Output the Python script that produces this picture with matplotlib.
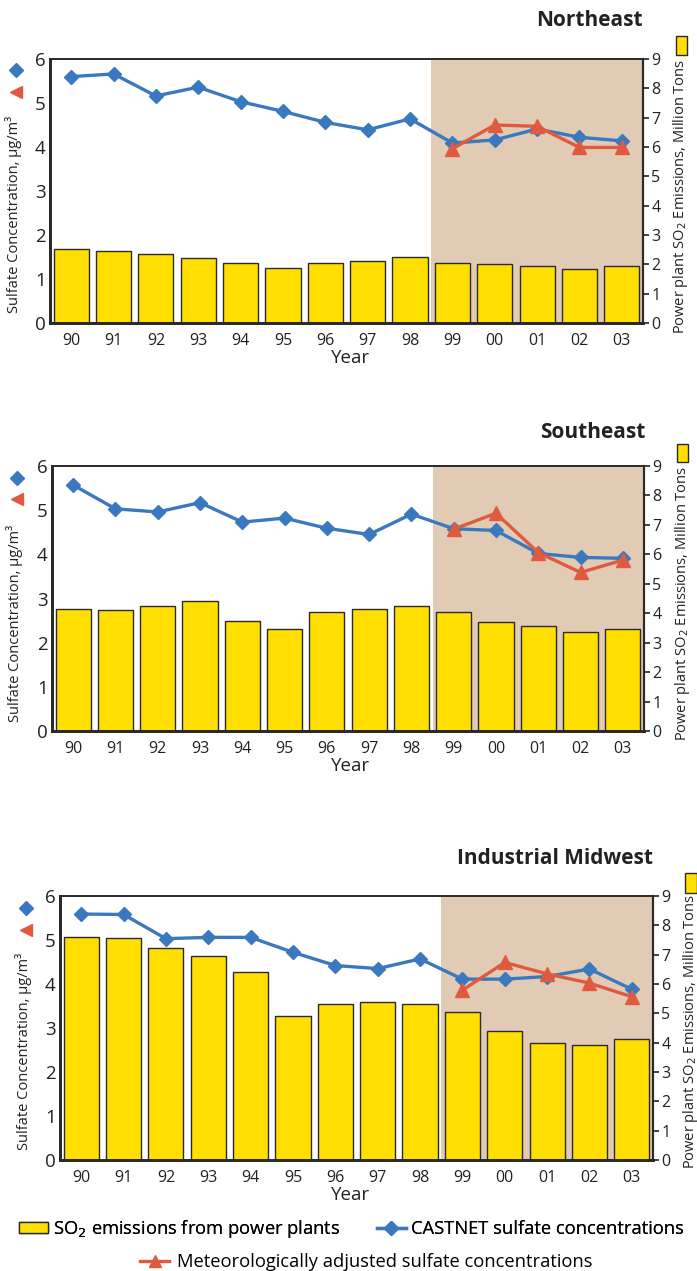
import matplotlib
matplotlib.use("Agg")
import matplotlib.pyplot as plt
from matplotlib.lines import Line2D
from matplotlib.patches import Rectangle

plt.rcParams['font.family'] = ['Open Sans', 'DejaVu Sans']

years = ["90", "91", "92", "93", "94", "95", "96", "97", "98", "99", "00", "01", "02", "03"]
regions = ["Northeast", "Southeast", "Industrial Midwest"]

# SO2 emissions, million tons (right axis)
ne_so2 = [2.52, 2.46, 2.34, 2.22, 2.06, 1.88, 2.06, 2.12, 2.25, 2.06, 2.00, 1.95, 1.85, 1.95]
se_so2 = [4.16, 4.10, 4.25, 4.42, 3.73, 3.45, 4.05, 4.14, 4.25, 4.05, 3.71, 3.56, 3.37, 3.47]
mw_so2 = [7.61, 7.58, 7.24, 6.97, 6.40, 4.90, 5.33, 5.40, 5.33, 5.06, 4.40, 4.00, 3.93, 4.13]

# CASTNET sulfate concentrations, ug/m3 (left axis)
ne_cast = [5.60, 5.66, 5.16, 5.36, 5.03, 4.81, 4.56, 4.39, 4.64, 4.09, 4.16, 4.41, 4.22, 4.14]
se_cast = [5.57, 5.03, 4.96, 5.17, 4.73, 4.82, 4.59, 4.45, 4.91, 4.58, 4.54, 4.02, 3.93, 3.91]
mw_cast = [5.59, 5.58, 5.03, 5.06, 5.06, 4.72, 4.42, 4.35, 4.57, 4.11, 4.11, 4.17, 4.34, 3.88]

# Meteorologically adjusted sulfate concentrations (1999-2003)
met_years = ["99", "00", "01", "02", "03"]
ne_met = [3.96, 4.50, 4.47, 3.99, 3.99]
se_met = [4.57, 4.93, 4.04, 3.59, 3.87]
mw_met = [3.86, 4.49, 4.23, 4.02, 3.71]

W, H = 697, 1271
fig = plt.figure(figsize=(W / 100, H / 100), dpi=100)

BLUE = "#3a78c0"
RED = "#e05a3f"
YELLOW = "#ffde00"
TAN = "#e2cbb4"
DARK = "#2a2a2a"
TXT = "#222222"

# layout in pixels: left, right, top, bottom of axes
boxes = [(50, 643, 59, 323), (52, 644, 466, 731), (60, 653, 896, 1160)]
titles_pos = [(643, 20), (645, 432), (653, 858)]
left_lbl = [(14, 214), (15, 623), (24, 1051)]
right_lbl = [(681, 197), (682, 604), (690, 1032)]
diamond_pos = [(16, 70), (17, 478), (26, 908)]
tri_pos = [(16, 92), (17, 499), (26, 930)]
ysq = [(676, 36, 11, 19), (677, 444, 11, 18), (685, 873, 12, 20)]

so2_all = [ne_so2, se_so2, mw_so2]
cast_all = [ne_cast, se_cast, mw_cast]
met_all = [ne_met, se_met, mw_met]

xpos = list(range(len(years)))
met_x = [years.index(y) for y in met_years]

def fx(px):
    return px / W

def fy(py):
    return 1 - py / H

for i in range(3):
    l, r, t, b = boxes[i]
    ax2 = fig.add_axes([fx(l), fy(b), fx(r) - fx(l), fy(t) - fy(b)])
    ax = ax2.twinx()
    ax2.yaxis.tick_right()
    ax.yaxis.tick_left()
    ax.set_zorder(ax2.get_zorder() + 1)
    ax.patch.set_visible(False)

    ax2.set_xlim(-0.5, 13.5)
    ax2.set_ylim(0, 9)
    ax.set_ylim(0, 6)
    ax2.axvspan(8.5, 13.5, color=TAN, zorder=0, lw=0)
    ax2.bar(xpos, so2_all[i], width=0.83, color=YELLOW, edgecolor=DARK,
            linewidth=1.0, zorder=2)
    ax.plot(xpos, cast_all[i], color=BLUE, lw=2.4, marker='D', ms=7.5,
            zorder=3, clip_on=False)
    ax.plot(met_x, met_all[i], color=RED, lw=2.4, marker='^', ms=9.5,
            zorder=4, clip_on=False)

    ax2.set_xticks(xpos)
    ax2.set_xticklabels(years, fontsize=11.5, color=TXT)
    ax2.tick_params(axis='x', length=0, pad=7)
    ax2.set_yticks(range(0, 10))
    ax2.tick_params(axis='y', right=True, left=False, labelright=True,
                    labelleft=False, length=4, width=1.2, labelsize=11.5,
                    colors=TXT, pad=2)
    ax.set_yticks(range(0, 7))
    ax.tick_params(axis='y', left=True, right=False, labelleft=True,
                   labelright=False, length=0, labelsize=13.5, colors=TXT, pad=3)
    for a in (ax, ax2):
        for s in a.spines.values():
            s.set_color(DARK)
        a.spines['left'].set_linewidth(2.0)
        a.spines['bottom'].set_linewidth(2.0)
        a.spines['right'].set_linewidth(1.5)
        a.spines['top'].set_linewidth(1.2)

    fig.text(fx(351), fy(b + 35), "Year", ha='center', va='center',
             fontsize=13.5, color=TXT)
    tx, ty = titles_pos[i]
    fig.text(fx(tx), fy(ty), regions[i], ha='right', va='center',
             fontsize=15, fontweight='bold', color=TXT)
    fig.text(fx(left_lbl[i][0]), fy(left_lbl[i][1]),
             "Sulfate Concentration, \u03bcg/m\u00b3", rotation=90,
             ha='center', va='center', fontsize=10.5, color=TXT)
    fig.text(fx(right_lbl[i][0]), fy(right_lbl[i][1]),
             "Power plant SO$_2$ Emissions, Million Tons", rotation=90,
             ha='center', va='center', fontsize=10.5, color=TXT)
    dx, dy = diamond_pos[i]
    fig.add_artist(Line2D([fx(dx)], [fy(dy)], marker='D', ms=7, color=BLUE,
                          lw=0, transform=fig.transFigure))
    tx2, ty2 = tri_pos[i]
    fig.add_artist(Line2D([fx(tx2)], [fy(ty2)], marker='<', ms=9, color=RED,
                          lw=0, transform=fig.transFigure))
    sx, sy, sw, sh = ysq[i]
    fig.add_artist(Rectangle((fx(sx), fy(sy + sh)), sw / W, sh / H,
                             facecolor=YELLOW, edgecolor=DARK, lw=1.0,
                             transform=fig.transFigure))

# bottom legend
h1 = Rectangle((0, 0), 1, 1, facecolor=YELLOW, edgecolor=DARK, lw=1.0)
h2 = Line2D([], [], color=BLUE, lw=2.4, marker='D', ms=7)
h3 = Line2D([], [], color=RED, lw=2.4, marker='^', ms=9)
leg1 = fig.legend([h1, h2], ["SO$_2$ emissions from power plants",
                             "CASTNET sulfate concentrations"],
                  loc='center', bbox_to_anchor=(fx(351), fy(1229)), ncol=2,
                  frameon=False, fontsize=13.2, handlelength=1.6,
                  handleheight=0.6, handletextpad=0.25, columnspacing=2.0)
fig.add_artist(leg1)
fig.legend([h3], ["Meteorologically adjusted sulfate concentrations"],
           loc='center', bbox_to_anchor=(fx(366), fy(1262)), frameon=False,
           fontsize=13.2, handlelength=1.6, handletextpad=0.4)

fig.savefig("out.png", dpi=100)
